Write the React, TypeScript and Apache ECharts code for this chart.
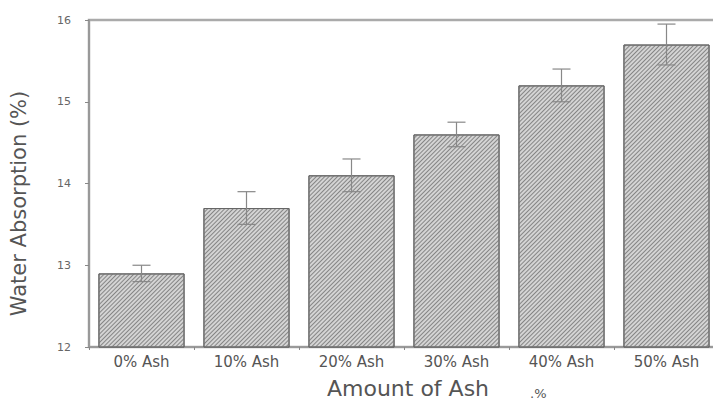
import React, { useEffect, useRef } from "react";
import * as echarts from "echarts";

const categories = ["0% Ash", "10% Ash", "20% Ash", "30% Ash", "40% Ash", "50% Ash"];
const absorption = [12.9, 13.7, 14.1, 14.6, 15.2, 15.7];
const errors = [0.1, 0.2, 0.2, 0.15, 0.2, 0.25];
const yTicks = { min: 12, max: 16, interval: 1 };

export default function App() {
  const ref = useRef<HTMLDivElement>(null);
  useEffect(() => {
    document.body.style.margin = "0";
    document.body.style.overflow = "hidden";
    const chart = echarts.init(ref.current!, null, { renderer: "svg" });
    const errData = absorption.map((v, i) => [i, v - errors[i], v + errors[i]]);
    chart.setOption({
      animation: false,
      textStyle: { fontFamily: "DejaVu Sans" },
      grid: {
        left: 86,
        top: 20,
        bottom: 56,
        right: 0,
        show: true,
        borderColor: "#aaa",
        borderWidth: 2.5,
      },
      xAxis: {
        type: "category",
        data: categories,
        axisLine: { lineStyle: { color: "#999", width: 2 } },
        axisTick: { show: true, length: 3, lineStyle: { color: "#888" } },
        axisLabel: { color: "#555", fontSize: 15, margin: 7, fontFamily: "DejaVu Sans" },
        name: "Amount of Ash",
        nameLocation: "middle",
        nameGap: 30,
        nameTextStyle: {
          color: "#555",
          fontSize: 22,
          fontFamily: "DejaVu Sans",
          padding: [0, 0, 0, 8],
        },
      },
      yAxis: {
        type: "value",
        min: yTicks.min,
        max: yTicks.max,
        interval: yTicks.interval,
        splitLine: { show: false },
        axisLine: { show: true, lineStyle: { color: "#999", width: 2 } },
        axisTick: { show: true, length: 4, lineStyle: { color: "#888" } },
        axisLabel: { color: "#666", fontSize: 11, margin: 18, fontFamily: "DejaVu Sans" },
        name: "Water Absorption (%)",
        nameLocation: "middle",
        nameGap: 60,
        nameRotate: 90,
        nameTextStyle: {
          color: "#555",
          fontSize: 21,
          fontFamily: "DejaVu Sans",
          padding: [0, 40, 0, 0],
        },
      },
      graphic: [
        {
          type: "text",
          left: 530,
          top: 387,
          style: { text: ".%", fontSize: 13, fill: "#555", fontFamily: "DejaVu Sans" },
        },
      ],
      series: [
        {
          type: "bar",
          data: absorption,
          barCategoryGap: "18%",
          itemStyle: {
            color: "#d4d4d4",
            borderColor: "#666",
            borderWidth: 1,
            decal: {
              symbol: "rect",
              symbolSize: 1,
              rotation: -Math.PI / 4,
              color: "#858585",
              dashArrayX: [1, 0],
              dashArrayY: [1, 2],
            },
          },
        },
        {
          type: "custom",
          data: errData,
          z: 10,
          renderItem: (params: any, api: any) => {
            const x = api.value(0);
            const lo = api.coord([x, api.value(1)]);
            const hi = api.coord([x, api.value(2)]);
            const hw = 9;
            const style = { stroke: "#888", lineWidth: 1.2, fill: "none" };
            return {
              type: "group",
              children: [
                { type: "line", shape: { x1: lo[0], y1: lo[1], x2: hi[0], y2: hi[1] }, style },
                { type: "line", shape: { x1: hi[0] - hw, y1: hi[1], x2: hi[0] + hw, y2: hi[1] }, style },
                { type: "line", shape: { x1: lo[0] - hw, y1: lo[1], x2: lo[0] + hw, y2: lo[1] }, style },
              ],
            };
          },
        },
      ],
    });
    return () => chart.dispose();
  }, []);
  return <div ref={ref} style={{ width: 719, height: 404 }} />;
}
